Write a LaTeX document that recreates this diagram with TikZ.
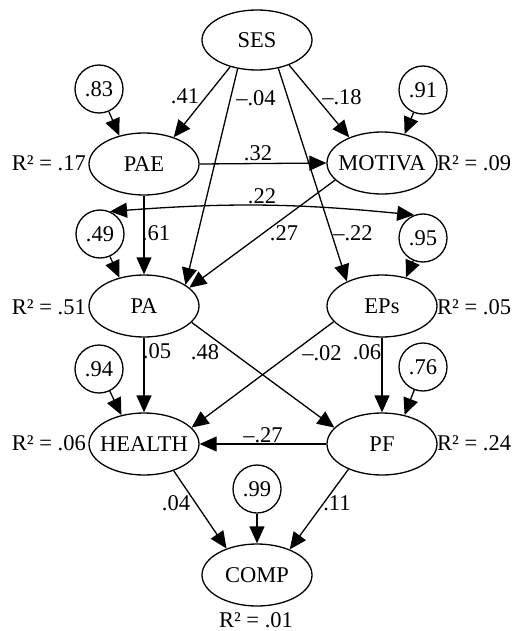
\documentclass[tikz,border=0pt]{standalone}
\usepackage{fontspec}
\setmainfont{Liberation Serif}
\usetikzlibrary{shapes.geometric,arrows.meta}
\begin{document}
\begin{tikzpicture}[x=1pt,y=-1pt,
  font=\fontsize{22.5}{25}\selectfont,
  lat/.style={draw, ellipse, line width=1.3pt, minimum width=110pt, minimum height=62pt, inner sep=0pt},
  err/.style={draw, circle, line width=1.3pt, minimum size=48pt, inner sep=0pt},
  tip/.style={-{Triangle[length=17pt,width=15pt]}},
  pth/.style={line width=1.3pt, tip},
  lbl/.style={inner sep=0pt},
]
\useasboundingbox (0,0) rectangle (519,631);
% latent variables
\node[lat, minimum height=60pt] (SES) at (257,40) {SES};
\node[lat] (PAE) at (144,164) {PAE};
\node[lat] (MOT) at (382,163) {\makebox[0pt]{MOTIVA}};
\node[lat] (PA) at (144,306) {PA};
\node[lat] (EPs) at (382,306) {EPs};
\node[lat] (HEA) at (144,444) {\makebox[0pt]{HEALTH}};
\node[lat] (PF) at (382,444) {PF};
\node[lat] (COMP) at (257,575) {COMP};
% error terms
\node[err] (e83) at (99,89) {.83};
\node[err] (e91) at (423,90) {.91};
\node[err] (e49) at (100,234) {.49};
\node[err] (e95) at (423,238) {.95};
\node[err] (e94) at (99,369) {.94};
\node[err] (e76) at (423,367) {.76};
\node[err] (e99) at (257,489) {.99};
% R squared
\node[lbl, anchor=east] (r17) at (86,163) {R² = .17};
\node[lbl, anchor=west] (r09) at (437,163) {R² = .09};
\node[lbl, anchor=east] (r51) at (86,307) {R² = .51};
\node[lbl, anchor=west] (r05) at (437,307) {R² = .05};
\node[lbl, anchor=east] (r06) at (86,443) {R² = .06};
\node[lbl, anchor=west] (r24) at (437,443) {R² = .24};
\node[lbl] (r01) at (256,620) {R² = .01};
% error arrows
\draw[pth] (e83) -- (PAE.131);
\draw[pth] (e91) -- (MOT.52);
\draw[pth] (e49) -- (PA.131);
\draw[pth] (e95) -- (EPs.50);
\draw[pth] (e94) -- (HEA.128);
\draw[pth] (e76) -- (PF.52);
\draw[pth] (e99) -- (COMP.north);
% structural paths
\draw[pth] (SES.225) -- (PAE.42);
\draw[pth] (SES.236) -- (PA.27);
\draw[pth] (SES.307) -- (EPs.145);
\draw[pth] (SES.322) -- (MOT.142);
\draw[pth] (PAE.east) -- (MOT.west);
\draw[pth] (PAE.south) -- (PA.north);
\draw[pth] (MOT.200) -- (PA.22);
\draw[pth] (PA.south) -- (HEA.north);
\draw[pth] (PA.341) -- (PF.161);
\draw[pth] (EPs.198) -- (HEA.19);
\draw[pth] (EPs.south) -- (PF.north);
\draw[pth] (PF.west) -- (HEA.east);
\draw[pth] (HEA.318) -- (COMP.139);
\draw[pth] (PF.217) -- (COMP.38);
% covariance
\draw[line width=1.3pt, {Triangle[length=17pt,width=15pt]}-{Triangle[length=17pt,width=15pt]}] (e49.66) to[bend left=5] (e95.111);
% coefficient labels
\node[lbl] (l41) at (185,96) {.41};
\node[lbl] (l04) at (256,98) {–.04};
\node[lbl] (l18) at (342,97) {–.18};
\node[lbl] (l32) at (258,153) {.32};
\node[lbl] (l22) at (262,196) {.22};
\node[lbl] (l61) at (156,233) {.61};
\node[lbl] (l27) at (284,233) {.27};
\node[lbl] (lm22) at (353,233) {–.22};
\node[lbl] (l05) at (157,351) {.05};
\node[lbl] (l48) at (205,352) {.48};
\node[lbl] (l02) at (322,353) {–.02};
\node[lbl] (l06) at (367,352) {.06};
\node[lbl] (l27b) at (263,435) {–.27};
\node[lbl] (l04b) at (176,503) {.04};
\node[lbl] (l11) at (337,503) {.11};
\end{tikzpicture}
\end{document}
